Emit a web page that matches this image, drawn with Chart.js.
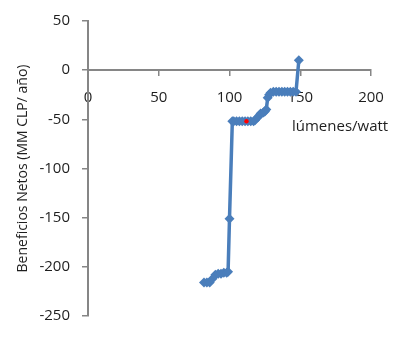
<!DOCTYPE html>
<html>
<head>
<meta charset="utf-8">
<script src="https://cdn.jsdelivr.net/npm/chart.js@4/dist/chart.umd.min.js"></script>
<style>
  html, body { margin: 0; padding: 0; background: #fff; }
  #wrap { width: 398px; height: 337px; }
</style>
</head>
<body>
<div id="wrap"><canvas id="myChart"></canvas></div>
<script>
// lumens per watt vs net benefits (MM CLP / year)
var xValues = [82, 84, 86, 88, 90, 92, 94, 96, 98, 99, 100, 102, 103, 105, 107, 109, 111, 113, 115, 117, 118,
               120, 121, 122, 124, 125, 126, 127, 128, 129, 131, 133, 135, 137, 139, 141, 143, 145, 147, 149];
var yValues = [-216, -216, -216, -212, -208, -207, -207, -206, -206, -205, -151, -52, -52, -52, -52, -52, -52, -52, -52, -52, -51,
               -48, -46, -44, -43, -42, -40, -28, -25, -23, -22, -22, -22, -22, -22, -22, -22, -22, -22, 10];
var markX = [112];
var markY = [-52];
var xTicks = [0, 50, 100, 150, 200];
var yTicks = [-250, -200, -150, -100, -50, 0, 50];

var axisGray = '#868686';
var txt = '#1e1e1e';
var fontFam = '"Open Sans", sans-serif';

function pts(xs, ys) {
  return xs.map(function (x, i) { return { x: x, y: ys[i] }; });
}

// x axis title sits next to the axis, Excel style
var xTitle = {
  id: 'xTitle',
  afterDraw: function (chart) {
    var c = chart.ctx;
    c.save();
    c.font = '15px ' + fontFam;
    c.fillStyle = txt;
    c.textAlign = 'left';
    c.textBaseline = 'middle';
    c.fillText('lúmenes/watt', 292, 127);
    c.restore();
  }
};

new Chart('myChart', {
  type: 'scatter',
  data: {
    datasets: [{
      data: pts(markX, markY),
      pointStyle: 'circle',
      pointRadius: 2.2,
      backgroundColor: '#ff0000',
      borderWidth: 0,
      order: 0
    }, {
      data: pts(xValues, yValues),
      showLine: true,
      borderColor: '#4a7ebb',
      backgroundColor: '#4a7ebb',
      borderWidth: 3.5,
      pointStyle: 'rectRot',
      pointRadius: 5,
      pointBorderWidth: 0,
      order: 1
    }]
  },
  options: {
    responsive: true,
    maintainAspectRatio: false,
    animation: false,
    events: [],
    layout: { padding: { left: 0, top: 18, right: 27, bottom: 10 } },
    plugins: { legend: { display: false }, tooltip: { enabled: false } },
    scales: {
      x: {
        type: 'linear',
        position: { y: 0 },
        min: 0, max: 200,
        afterBuildTicks: function (s) { s.ticks = xTicks.map(function (v) { return { value: v }; }); },
        afterFit: function (s) { s.height = 0; },
        grid: { drawOnChartArea: false, drawTicks: true, tickLength: 5, color: axisGray, lineWidth: 1.5 },
        border: { color: axisGray, width: 2 },
        ticks: { padding: 14, color: txt, font: { family: fontFam, size: 15 }, maxRotation: 0,
                 callback: function (v) { return String(v); } }
      },
      y: {
        type: 'linear',
        position: 'left',
        min: -250, max: 50,
        afterBuildTicks: function (s) { s.ticks = yTicks.map(function (v) { return { value: v }; }); },
        afterFit: function (s) { s.width = 88; },
        grid: { drawOnChartArea: false, drawTicks: true, tickLength: 6, color: axisGray, lineWidth: 1.5 },
        border: { color: axisGray, width: 2 },
        ticks: { padding: 12, color: txt, font: { family: fontFam, size: 15 },
                 callback: function (v) { return String(v); } },
        title: {
          display: true,
          text: 'Beneficios Netos (MM CLP/ año)',
          color: txt,
          font: { family: fontFam, size: 14 },
          padding: { top: 15, bottom: 0 }
        }
      }
    }
  },
  plugins: [xTitle]
});
</script>
</body>
</html>
